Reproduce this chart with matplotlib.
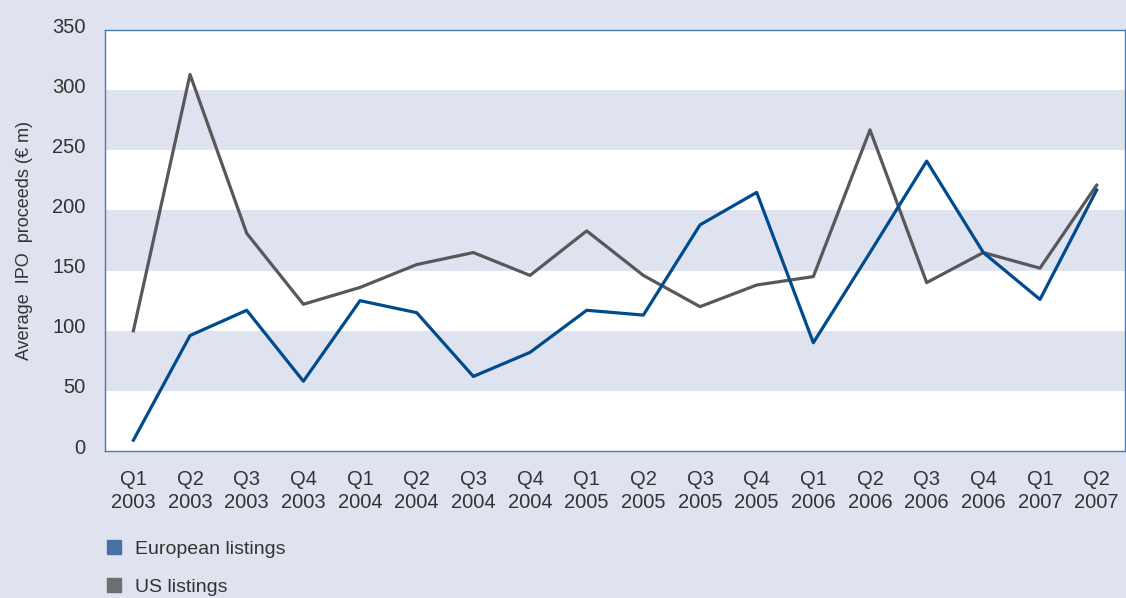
import matplotlib.pyplot as plt
import matplotlib.transforms as mtransforms
from matplotlib.lines import Line2D

plt.rcParams['font.family'] = ['Liberation Sans', 'DejaVu Sans']

# Quarter labels
quarters = ['Q1\n2003', 'Q2\n2003', 'Q3\n2003', 'Q4\n2003',
            'Q1\n2004', 'Q2\n2004', 'Q3\n2004', 'Q4\n2004',
            'Q1\n2005', 'Q2\n2005', 'Q3\n2005', 'Q4\n2005',
            'Q1\n2006', 'Q2\n2006', 'Q3\n2006', 'Q4\n2006',
            'Q1\n2007', 'Q2\n2007']

# Average IPO proceeds (EUR m)
european = [9, 96, 117, 58, 125, 115, 62, 82, 117, 113,
            188, 215, 90, 165, 241, 165, 126, 217]
us = [100, 313, 181, 122, 136, 155, 165, 146, 183, 146,
      120, 138, 145, 267, 140, 165, 152, 221]

bg = '#dfe3ef'
blue = '#004b8d'
grey = '#58585a'
text_col = '#333333'

fig = plt.figure(figsize=(11.26, 5.98), dpi=100, facecolor=bg)
ax = fig.add_axes([0.0933, 0.2458, 0.9058, 0.704])
ax.set_facecolor('white')

# alternating bands
for lo in range(50, 350, 100):
    ax.axhspan(lo, lo + 50, color=bg, lw=0, zorder=0)

x = list(range(len(quarters)))
ax.plot(x, european, color=blue, lw=2.3, zorder=3)
ax.plot(x, us, color=grey, lw=2.3, zorder=2)

ax.set_xlim(-0.5, len(quarters) - 0.5)
ax.set_ylim(0, 350)
ax.set_yticks(range(0, 351, 50))
ax.set_xticks(x)
ax.set_xticklabels(quarters, linespacing=1.25)
ax.tick_params(length=0, labelsize=14.5, colors=text_col)
ax.tick_params(axis='y', pad=14)
ax.tick_params(axis='x', pad=14)

# y tick labels sit a little above their values in the original
offset = mtransforms.ScaledTranslation(0, 5 / 100, fig.dpi_scale_trans)
for lbl in ax.get_yticklabels():
    lbl.set_transform(lbl.get_transform() + offset)

for s in ax.spines.values():
    s.set_color('#4a78b0')
    s.set_linewidth(1.0)

ax.set_ylabel('Average  IPO  proceeds (€ m)', fontsize=13, color=text_col, labelpad=14)

handles = [Line2D([], [], ls='none', marker='s', ms=10, color='#4a6fa5'),
           Line2D([], [], ls='none', marker='s', ms=10, color='#6d6e70')]
fig.legend(handles, ['European listings', 'US listings'],
           loc='upper left', bbox_to_anchor=(0.0924, 0.097),
           frameon=False, fontsize=14, labelcolor=text_col,
           handlelength=1.0, handletextpad=0.6, labelspacing=1.05,
           borderpad=0, borderaxespad=0)

fig.savefig('out.png', dpi=100, facecolor=bg)
